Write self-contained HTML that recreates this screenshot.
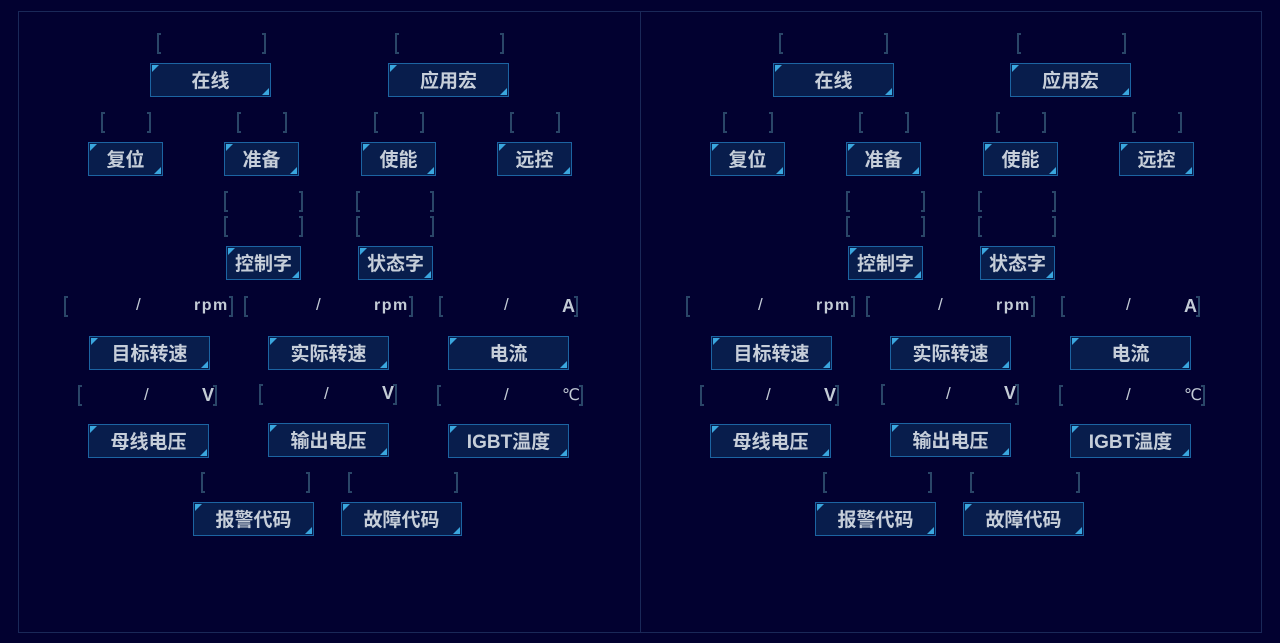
<!DOCTYPE html>
<html><head><meta charset="utf-8">
<style>
html,body{margin:0;padding:0;width:1280px;height:643px;overflow:hidden;background:#020130;}
.frame{position:absolute;left:18px;top:11px;width:1244px;height:622px;box-sizing:border-box;border:1px solid #1a2858;}
.div{position:absolute;left:640px;top:11px;width:1px;height:622px;background:#1a2858;}
.panel{position:absolute;top:0;width:640px;height:643px;}
.b{position:absolute;box-sizing:border-box;width:121px;height:34px;background:#081d4c;border:1px solid #1c64a2;color:#c6ced9;font-family:"Liberation Sans","Noto Sans CJK SC",sans-serif;font-size:19px;font-weight:bold;text-align:center;line-height:35px;}
.b.s{width:75px;}
.b::before{content:"";position:absolute;left:1px;top:1px;width:0;height:0;border-top:7px solid #3aa6de;border-right:7px solid transparent;}
.b::after{content:"";position:absolute;right:1px;bottom:1px;width:0;height:0;border-bottom:7px solid #3aa6de;border-left:7px solid transparent;}
.l,.r{position:absolute;box-sizing:border-box;width:4px;height:21px;border:2px solid #2a4668;}
.l{border-right:none;}
.r{border-left:none;}
.t{position:absolute;color:#c4ccd6;font-family:"Liberation Sans","DejaVu Sans",sans-serif;font-size:18px;line-height:20px;white-space:nowrap;font-weight:bold;}
.sl{font-weight:normal;font-size:17px;}
.u{letter-spacing:1.5px;font-size:16px;}
.c{font-size:16px;font-weight:normal;}
</style></head><body>
<div class="frame"></div>
<div class="div"></div>

<div class="panel" style="left:0">
  <span class="l" style="left:157px;top:33px"></span><span class="r" style="left:262px;top:33px"></span>
  <span class="l" style="left:395px;top:33px"></span><span class="r" style="left:500px;top:33px"></span>
  <div class="b" style="left:150px;top:63px">在线</div>
  <div class="b" style="left:388px;top:63px">应用宏</div>

  <span class="l" style="left:101px;top:112px"></span><span class="r" style="left:147px;top:112px"></span>
  <span class="l" style="left:237px;top:112px"></span><span class="r" style="left:283px;top:112px"></span>
  <span class="l" style="left:374px;top:112px"></span><span class="r" style="left:420px;top:112px"></span>
  <span class="l" style="left:510px;top:112px"></span><span class="r" style="left:556px;top:112px"></span>
  <div class="b s" style="left:88px;top:142px">复位</div>
  <div class="b s" style="left:224px;top:142px">准备</div>
  <div class="b s" style="left:361px;top:142px">使能</div>
  <div class="b s" style="left:497px;top:142px">远控</div>

  <span class="l" style="left:224px;top:191px"></span><span class="r" style="left:299px;top:191px"></span>
  <span class="l" style="left:224px;top:216px"></span><span class="r" style="left:299px;top:216px"></span>
  <span class="l" style="left:356px;top:191px"></span><span class="r" style="left:430px;top:191px"></span>
  <span class="l" style="left:356px;top:216px"></span><span class="r" style="left:430px;top:216px"></span>
  <div class="b s" style="left:226px;top:246px">控制字</div>
  <div class="b s" style="left:358px;top:246px">状态字</div>

  <span class="l" style="left:64px;top:296px"></span>
  <span class="t sl" style="left:136px;top:295px">/</span>
  <span class="t u" style="left:194px;top:296px">rpm</span>
  <span class="r" style="left:229px;top:296px"></span>
  <span class="l" style="left:244px;top:296px"></span>
  <span class="t sl" style="left:316px;top:295px">/</span>
  <span class="t u" style="left:374px;top:296px">rpm</span>
  <span class="r" style="left:409px;top:296px"></span>
  <span class="l" style="left:439px;top:296px"></span>
  <span class="t sl" style="left:504px;top:295px">/</span>
  <span class="t" style="left:562px;top:296px">A</span>
  <span class="r" style="left:574px;top:296px"></span>

  <div class="b" style="left:89px;top:336px">目标转速</div>
  <div class="b" style="left:268px;top:336px">实际转速</div>
  <div class="b" style="left:448px;top:336px">电流</div>

  <span class="l" style="left:78px;top:385px"></span>
  <span class="t sl" style="left:144px;top:385px">/</span>
  <span class="t" style="left:202px;top:385px">V</span>
  <span class="r" style="left:213px;top:385px"></span>
  <span class="l" style="left:259px;top:384px"></span>
  <span class="t sl" style="left:324px;top:384px">/</span>
  <span class="t" style="left:382px;top:383px">V</span>
  <span class="r" style="left:393px;top:384px"></span>
  <span class="l" style="left:437px;top:385px"></span>
  <span class="t sl" style="left:504px;top:385px">/</span>
  <span class="t c" style="left:562px;top:386px">℃</span>
  <span class="r" style="left:579px;top:385px"></span>

  <div class="b" style="left:88px;top:424px">母线电压</div>
  <div class="b" style="left:268px;top:423px">输出电压</div>
  <div class="b" style="left:448px;top:424px">IGBT温度</div>

  <span class="l" style="left:201px;top:472px"></span><span class="r" style="left:306px;top:472px"></span>
  <span class="l" style="left:348px;top:472px"></span><span class="r" style="left:454px;top:472px"></span>
  <div class="b" style="left:193px;top:502px">报警代码</div>
  <div class="b" style="left:341px;top:502px">故障代码</div>
</div>

<div class="panel" style="left:622px">
  <span class="l" style="left:157px;top:33px"></span><span class="r" style="left:262px;top:33px"></span>
  <span class="l" style="left:395px;top:33px"></span><span class="r" style="left:500px;top:33px"></span>
  <div class="b" style="left:151px;top:63px">在线</div>
  <div class="b" style="left:388px;top:63px">应用宏</div>

  <span class="l" style="left:101px;top:112px"></span><span class="r" style="left:147px;top:112px"></span>
  <span class="l" style="left:237px;top:112px"></span><span class="r" style="left:283px;top:112px"></span>
  <span class="l" style="left:374px;top:112px"></span><span class="r" style="left:420px;top:112px"></span>
  <span class="l" style="left:510px;top:112px"></span><span class="r" style="left:556px;top:112px"></span>
  <div class="b s" style="left:88px;top:142px">复位</div>
  <div class="b s" style="left:224px;top:142px">准备</div>
  <div class="b s" style="left:361px;top:142px">使能</div>
  <div class="b s" style="left:497px;top:142px">远控</div>

  <span class="l" style="left:224px;top:191px"></span><span class="r" style="left:299px;top:191px"></span>
  <span class="l" style="left:224px;top:216px"></span><span class="r" style="left:299px;top:216px"></span>
  <span class="l" style="left:356px;top:191px"></span><span class="r" style="left:430px;top:191px"></span>
  <span class="l" style="left:356px;top:216px"></span><span class="r" style="left:430px;top:216px"></span>
  <div class="b s" style="left:226px;top:246px">控制字</div>
  <div class="b s" style="left:358px;top:246px">状态字</div>

  <span class="l" style="left:64px;top:296px"></span>
  <span class="t sl" style="left:136px;top:295px">/</span>
  <span class="t u" style="left:194px;top:296px">rpm</span>
  <span class="r" style="left:229px;top:296px"></span>
  <span class="l" style="left:244px;top:296px"></span>
  <span class="t sl" style="left:316px;top:295px">/</span>
  <span class="t u" style="left:374px;top:296px">rpm</span>
  <span class="r" style="left:409px;top:296px"></span>
  <span class="l" style="left:439px;top:296px"></span>
  <span class="t sl" style="left:504px;top:295px">/</span>
  <span class="t" style="left:562px;top:296px">A</span>
  <span class="r" style="left:574px;top:296px"></span>

  <div class="b" style="left:89px;top:336px">目标转速</div>
  <div class="b" style="left:268px;top:336px">实际转速</div>
  <div class="b" style="left:448px;top:336px">电流</div>

  <span class="l" style="left:78px;top:385px"></span>
  <span class="t sl" style="left:144px;top:385px">/</span>
  <span class="t" style="left:202px;top:385px">V</span>
  <span class="r" style="left:213px;top:385px"></span>
  <span class="l" style="left:259px;top:384px"></span>
  <span class="t sl" style="left:324px;top:384px">/</span>
  <span class="t" style="left:382px;top:383px">V</span>
  <span class="r" style="left:393px;top:384px"></span>
  <span class="l" style="left:437px;top:385px"></span>
  <span class="t sl" style="left:504px;top:385px">/</span>
  <span class="t c" style="left:562px;top:386px">℃</span>
  <span class="r" style="left:579px;top:385px"></span>

  <div class="b" style="left:88px;top:424px">母线电压</div>
  <div class="b" style="left:268px;top:423px">输出电压</div>
  <div class="b" style="left:448px;top:424px">IGBT温度</div>

  <span class="l" style="left:201px;top:472px"></span><span class="r" style="left:306px;top:472px"></span>
  <span class="l" style="left:348px;top:472px"></span><span class="r" style="left:454px;top:472px"></span>
  <div class="b" style="left:193px;top:502px">报警代码</div>
  <div class="b" style="left:341px;top:502px">故障代码</div>
</div>
</body></html>
